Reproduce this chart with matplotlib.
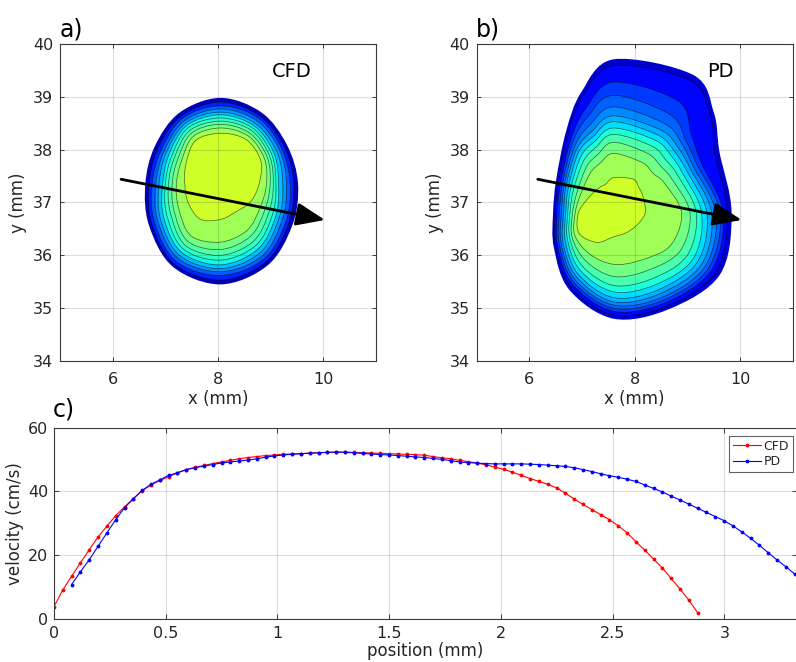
import numpy as np
import matplotlib
matplotlib.use("Agg")
import matplotlib.pyplot as plt
from matplotlib.path import Path
from matplotlib.patches import PathPatch

# ---------------- data ----------------
# velocity profiles along the arrow
step = 2.88 / 73
cfd_idx = np.arange(0, 74)
cfd_vel = [3.9, 9.1, 13.4, 17.6, 21.7, 25.7, 29.1, 32.4, 35.1, 37.7,
           40.2, 42.0, 43.4, 44.6, 45.8, 46.8, 47.5, 48.1, 48.7, 49.2,
           49.7, 50.2, 50.6, 50.9, 51.2, 51.4, 51.6, 51.7, 51.8, 52.0,
           52.1, 52.2, 52.3, 52.3, 52.2, 52.1, 52.0, 51.9, 51.8, 51.7,
           51.6, 51.5, 51.3, 50.9, 50.5, 50.2, 49.7, 49.3, 48.85, 48.3,
           47.6, 46.9, 46.0, 45.0, 44.0, 43.1, 42.2, 41.1, 39.4, 37.6,
           35.9, 34.3, 32.7, 31.1, 29.2, 27.0, 24.2, 21.6, 18.8, 16.0,
           12.7, 9.4, 5.9, 2.0]
pd_idx = np.arange(2, 85)
pd_vel = [10.8, 14.8, 18.6, 22.8, 27.0, 31.1, 34.9, 37.7, 40.3, 42.2,
          43.6, 45.0, 45.8, 46.8, 47.4, 47.9, 48.4, 48.9, 49.2, 49.5,
          49.8, 50.2, 50.7, 51.1, 51.4, 51.6, 51.8, 51.9, 52.1, 52.2,
          52.3, 52.2, 52.1, 51.9, 51.7, 51.5, 51.4, 51.2, 51.0, 50.8,
          50.6, 50.3, 50.0, 49.6, 49.2, 49.0, 48.85, 48.7, 48.6, 48.6,
          48.6, 48.6, 48.5, 48.4, 48.2, 48.0, 47.8, 47.4, 46.8, 46.2,
          45.5, 44.9, 44.4, 43.8, 43.1, 42.0, 40.9, 39.8, 38.5, 37.3,
          36.0, 34.7, 33.4, 32.1, 30.8, 29.2, 27.3, 25.3, 23.1, 20.8,
          18.5, 16.4, 14.1]
cfd_pos = cfd_idx * step
pd_pos = pd_idx * step

# band colour positions in the jet colormap (outermost band first)
cfd_level_vals = [0.05, 0.16, 0.215, 0.27, 0.315, 0.37, 0.41, 0.45, 0.49, 0.545, 0.60]
pd_level_vals = [0.07, 0.13, 0.18, 0.22, 0.26, 0.30, 0.34, 0.39, 0.44, 0.49, 0.545, 0.60]

# CFD map: contour boundaries as radii (mm) from a centre at given angles
cfd_center = (8.05, 37.35)
cfd_angles = [0, 30, 60, 90, 120, 150, 180, 210, 240, 270, 300, 330]
cfd_radii = [
    [1.47, 1.46, 1.56, 1.63, 1.56, 1.44, 1.43, 1.57, 1.81, 1.90, 1.78, 1.57],
    [1.39, 1.40, 1.49, 1.55, 1.49, 1.37, 1.36, 1.51, 1.75, 1.82, 1.71, 1.49],
    [1.32, 1.34, 1.44, 1.48, 1.44, 1.30, 1.30, 1.45, 1.69, 1.73, 1.64, 1.43],
    [1.25, 1.29, 1.38, 1.42, 1.38, 1.24, 1.23, 1.38, 1.62, 1.66, 1.57, 1.35],
    [1.18, 1.23, 1.32, 1.36, 1.33, 1.19, 1.17, 1.32, 1.56, 1.60, 1.50, 1.28],
    [1.10, 1.17, 1.27, 1.31, 1.28, 1.13, 1.10, 1.25, 1.49, 1.53, 1.42, 1.21],
    [1.05, 1.12, 1.22, 1.25, 1.23, 1.07, 1.05, 1.18, 1.42, 1.44, 1.34, 1.14],
    [1.00, 1.07, 1.17, 1.19, 1.17, 1.01, 0.99, 1.10, 1.34, 1.35, 1.25, 1.06],
    [0.94, 1.02, 1.11, 1.13, 1.11, 0.94, 0.92, 1.02, 1.25, 1.24, 1.14, 0.97],
    [0.87, 0.96, 1.05, 1.06, 1.04, 0.86, 0.84, 0.92, 1.13, 1.10, 1.01, 0.87],
    [0.73, 0.88, 0.97, 0.96, 0.95, 0.76, 0.68, 0.71, 0.77, 0.67, 0.60, 0.66],
]

# PD map
pd_center = (7.6, 36.8)
pd_angles = [0, 30, 45, 60, 90, 105, 120, 150, 180, 210, 240, 270, 300, 330]
pd_radii = [
    [2.24, 2.32, 2.69, 3.02, 2.91, 2.37, 1.80, 1.26, 1.15, 1.31, 1.68, 2.00, 2.10, 2.33],
    [2.16, 2.22, 2.60, 2.90, 2.79, 2.28, 1.73, 1.21, 1.11, 1.27, 1.62, 1.93, 2.03, 2.24],
    [2.08, 1.92, 2.09, 2.45, 2.48, 2.05, 1.62, 1.16, 1.07, 1.23, 1.56, 1.86, 1.96, 2.15],
    [2.02, 1.83, 1.94, 2.15, 2.23, 1.89, 1.55, 1.12, 1.03, 1.19, 1.51, 1.80, 1.90, 2.08],
    [1.94, 1.75, 1.84, 1.95, 2.01, 1.73, 1.47, 1.08, 0.99, 1.15, 1.46, 1.74, 1.84, 2.01],
    [1.86, 1.68, 1.74, 1.81, 1.84, 1.60, 1.40, 1.04, 0.95, 1.11, 1.40, 1.68, 1.76, 1.93],
    [1.77, 1.60, 1.64, 1.70, 1.73, 1.50, 1.33, 0.99, 0.91, 1.06, 1.34, 1.60, 1.68, 1.84],
    [1.67, 1.51, 1.54, 1.59, 1.61, 1.40, 1.24, 0.94, 0.87, 1.01, 1.26, 1.49, 1.57, 1.74],
    [1.57, 1.41, 1.41, 1.46, 1.49, 1.29, 1.14, 0.88, 0.83, 0.96, 1.17, 1.37, 1.44, 1.61],
    [1.45, 1.28, 1.26, 1.30, 1.34, 1.15, 1.02, 0.80, 0.78, 0.91, 1.05, 1.20, 1.26, 1.45],
    [1.29, 1.12, 1.06, 1.10, 1.13, 0.98, 0.88, 0.72, 0.73, 0.85, 0.90, 0.97, 1.03, 1.24],
    [0.60, 0.64, 0.68, 0.74, 0.67, 0.57, 0.55, 0.56, 0.67, 0.76, 0.64, 0.45, 0.44, 0.49],
]

arrow_tail = (6.16, 37.44)
arrow_tip = (10.03, 36.67)

map_xticks = [6, 8, 10]
map_yticks = [34, 35, 36, 37, 38, 39, 40]
prof_xticks = [0, 0.5, 1, 1.5, 2, 2.5, 3]
prof_xticklabels = ["0", "0.5", "1", "1.5", "2", "2.5", "3"]
prof_yticks = [0, 20, 40, 60]

# ---------------- drawing ----------------
plt.rcParams["font.family"] = ["DejaVu Sans"]
TXT = "#262626"
SP = "#3a3a3a"

fig = plt.figure(figsize=(7.96, 6.62), dpi=100)
W, H = 796, 662


def ax_px(l, t, r, b):
    return fig.add_axes([l / W, 1 - b / H, (r - l) / W, (b - t) / H])


def smooth_closed(center, angles, radii):
    th = np.deg2rad(angles)
    P = np.column_stack([center[0] + np.asarray(radii) * np.cos(th),
                         center[1] + np.asarray(radii) * np.sin(th)])
    n = len(P)
    verts = [P[0]]
    codes = [Path.MOVETO]
    for i in range(n):
        p0, p1, p2, p3 = P[i - 1], P[i], P[(i + 1) % n], P[(i + 2) % n]
        verts += [p1 + (p2 - p0) / 6.0, p2 - (p3 - p1) / 6.0, p2]
        codes += [Path.CURVE4] * 3
    verts.append(P[0])
    codes.append(Path.CLOSEPOLY)
    return Path(verts, codes)


def style_axes(ax, tlen=2.6):
    for s in ax.spines.values():
        s.set_color(SP)
        s.set_linewidth(0.8)
    ax.tick_params(direction="in", top=True, right=True, length=tlen,
                   width=0.7, color=SP, labelcolor=TXT, labelsize=11.5)
    ax.grid(True, color="#262626", alpha=0.16, linewidth=0.8)


cmap = matplotlib.colormaps["jet"]


def draw_map(ax, center, angles, radii, vals, label, label_x):
    for k, rr in enumerate(radii):
        path = smooth_closed(center, angles, rr)
        ax.add_patch(PathPatch(path, facecolor=cmap(vals[k]),
                               edgecolor="none", zorder=1))
        if k > 0:
            ax.add_patch(PathPatch(path, facecolor="none", edgecolor="black",
                                   linewidth=0.5, alpha=0.6, zorder=1.5))
    ax.set_xlim(5, 11)
    ax.set_ylim(34, 40)
    ax.set_xticks(map_xticks)
    ax.set_yticks(map_yticks)
    style_axes(ax)
    ax.set_axisbelow(False)
    ax.tick_params(axis="x", pad=8)
    ax.tick_params(axis="y", pad=5)
    ax.set_xlabel("x (mm)", fontsize=12, color=TXT, labelpad=2)
    ax.set_ylabel("y (mm)", fontsize=12, color=TXT, labelpad=4)
    ax.annotate("", xy=arrow_tip, xytext=arrow_tail,
                arrowprops=dict(arrowstyle="-|>,head_length=0.8,head_width=0.32",
                                lw=2.0, color="black", mutation_scale=22,
                                shrinkA=0, shrinkB=0), zorder=5)
    ax.text(label_x, 39.48, label, fontsize=14,
            ha="center", va="center", color="black", zorder=6)


axa = ax_px(60, 44, 376, 361)
draw_map(axa, cfd_center, cfd_angles, cfd_radii, cfd_level_vals, "CFD", 9.4)
axb = ax_px(476.7, 44, 792.7, 361)
draw_map(axb, pd_center, pd_angles, pd_radii, pd_level_vals, "PD", 9.62)

fig.text(60 / W, 1 - 36 / H, "a)", fontsize=17, color="black", ha="left", va="baseline")
fig.text(476 / W, 1 - 36 / H, "b)", fontsize=17, color="black", ha="left", va="baseline")
fig.text(53 / W, 1 - 417 / H, "c)", fontsize=17, color="black", ha="left", va="baseline")

# profile plot
axc = ax_px(54, 427.5, 796.5, 619)
axc.plot(cfd_pos, cfd_vel, ".-", color="#ff0000", lw=0.8, ms=3.5, label="CFD")
axc.plot(pd_pos, pd_vel, ".-", color="#0000ff", lw=0.8, ms=3.5, label="PD")
axc.set_xlim(0, 3.3224)
axc.set_ylim(0, 60)
axc.set_xticks(prof_xticks)
axc.set_xticklabels(prof_xticklabels)
axc.set_yticks(prof_yticks)
style_axes(axc, tlen=3.5)
axc.set_axisbelow(True)
axc.tick_params(axis="x", pad=5)
axc.tick_params(axis="y", pad=4)
axc.set_xlabel("position (mm)", fontsize=12, color=TXT, labelpad=1)
axc.set_ylabel("velocity (cm/s)", fontsize=12, color=TXT, labelpad=3)
leg = axc.legend(loc="upper right", bbox_to_anchor=(793 / W, 1 - 436 / H),
                 bbox_transform=fig.transFigure, fontsize=9, frameon=True,
                 fancybox=False, borderpad=0.3, handlelength=2.3,
                 handletextpad=0.2, labelspacing=0.2, borderaxespad=0)
leg.get_frame().set_edgecolor(SP)
leg.get_frame().set_linewidth(0.8)
for t in leg.get_texts():
    t.set_color(TXT)

fig.savefig("out.png", dpi=100)
